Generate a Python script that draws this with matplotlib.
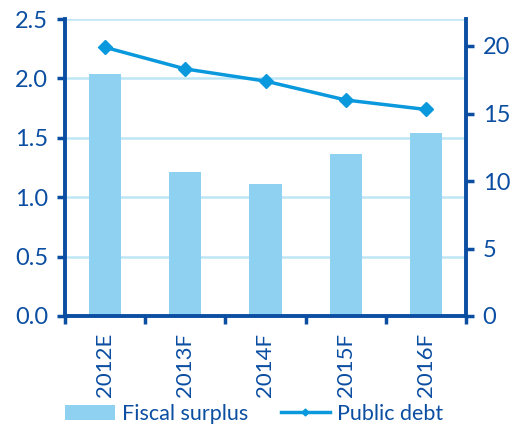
import matplotlib.pyplot as plt
import numpy as np

# Fiscal balance and public debt, estimates and forecasts
years = ['2012E', '2013F', '2014F', '2015F', '2016F']
fiscal_surplus = [2.04, 1.21, 1.11, 1.36, 1.54]
public_debt = [19.9, 18.3, 17.4, 16.0, 15.3]

dark = '#0B4EA2'
bar_col = '#8ED1F1'
line_col = '#0A99DC'
grid_col = '#BFE6F7'

plt.rcParams['font.family'] = ['Lato', 'DejaVu Sans']

fig = plt.figure(figsize=(5.18, 4.28), dpi=100)
ax = fig.add_axes([65 / 518, 1 - 316 / 428, 401 / 518, 297 / 428])
ax2 = ax.twinx()

x = np.arange(len(years))
ax.bar(x, fiscal_surplus, width=0.4, color=bar_col, zorder=2, label='Fiscal surplus')
ax2.plot(x, public_debt, color=line_col, lw=2.5, marker='D', ms=7,
         zorder=3, label='Public debt')

ax.set_xlim(-0.5, len(years) - 0.5)
ax.set_ylim(0, 2.5)
ax.set_yticks(np.arange(0, 2.51, 0.5))
ax.set_yticklabels([f'{v:.1f}' for v in np.arange(0, 2.51, 0.5)])
ax2.set_ylim(0, 22)
ax2.set_yticks([0, 5, 10, 15, 20])

ax.yaxis.grid(True, color=grid_col, lw=1.8, zorder=0)
ax.set_axisbelow(True)

# category labels between boundary ticks
ax.set_xticks(np.arange(-0.5, len(years), 1.0))
ax.set_xticklabels([])
ax.set_xticks(x, minor=True)
ax.set_xticklabels(years, minor=True, rotation=90)
ax.tick_params(axis='x', which='minor', length=0, pad=12)
ax.tick_params(axis='x', which='major', length=6, width=2.5, color=dark)

for a in (ax, ax2):
    for s in a.spines.values():
        s.set_visible(False)
ax.spines['left'].set_visible(True)
ax.spines['bottom'].set_visible(True)
ax2.spines['right'].set_visible(True)
for s in (ax.spines['left'], ax.spines['bottom'], ax2.spines['right']):
    s.set_color(dark)
    s.set_linewidth(2.8)

ax.tick_params(axis='y', length=6, width=2.5, color=dark, labelcolor=dark,
               labelsize=17, pad=6)
ax2.tick_params(axis='y', length=6, width=2.5, color=dark, labelcolor=dark,
                labelsize=17, pad=6)
ax.tick_params(axis='x', which='both', labelcolor=dark, labelsize=16)

h1, l1 = ax.get_legend_handles_labels()
h2, l2 = ax2.get_legend_handles_labels()
fig.legend(h1 + h2, l1 + l2, loc='lower left', bbox_to_anchor=(46 / 518, -0.035),
           ncol=2, frameon=False, fontsize=15.5, labelcolor=dark,
           handlelength=2.3, columnspacing=1.5, handletextpad=0.33, markerscale=0.5)

fig.savefig('out.png', dpi=100)
